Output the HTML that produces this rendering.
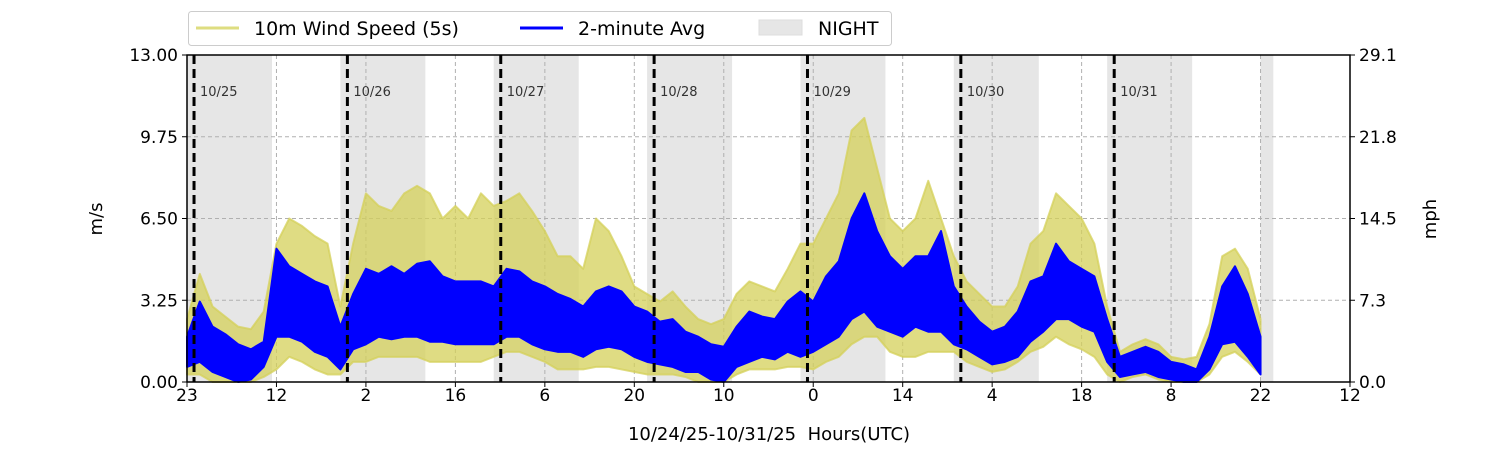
<!DOCTYPE html>
<html><head><meta charset="utf-8"><style>
html,body{margin:0;padding:0;background:#fff;}
svg{display:block;font-family:"DejaVu Sans","Liberation Sans",sans-serif;}
</style></head><body>
<svg id="chart" width="1500" height="450" viewBox="0 0 1500 450" xmlns="http://www.w3.org/2000/svg">
<g id="night-layer"></g>
<g id="grid-layer"></g>
<g id="yellow-layer"></g>
<g id="blue-layer"></g>
<g id="midnight-layer"></g>
<g id="axis-layer"></g>
<g>
  <rect x="188.5" y="11.5" width="703" height="34" rx="3" fill="#fff" stroke="#ccc" stroke-width="1"/>
  <line x1="196" y1="28" x2="239" y2="28" stroke="#dedd80" stroke-width="3"/>
  <text x="254" y="35" font-size="19" fill="#000">10m Wind Speed (5s)</text>
  <line x1="520" y1="28" x2="563" y2="28" stroke="#0000ff" stroke-width="3"/>
  <text x="578" y="35" font-size="19" fill="#000">2-minute Avg</text>
  <rect x="759" y="20" width="43" height="15" fill="#e6e6e6" stroke="#ddd"/>
  <text x="818" y="35" font-size="19" fill="#000">NIGHT</text>
</g>
<text x="102" y="219" font-size="18" text-anchor="middle" transform="rotate(-90 102 219)">m/s</text>
<text x="1436" y="219" font-size="18" text-anchor="middle" transform="rotate(-90 1436 219)">mph</text>
<text x="769" y="440" font-size="18" text-anchor="middle" xml:space="preserve">10/24/25-10/31/25  Hours(UTC)</text>
</svg>
<script>
// hours from start (2-hour steps 0..168), values in m/s
const hours = [0,2,4,6,8,10,12,14,16,18,20,22,24,26,28,30,32,34,36,38,40,42,44,46,48,50,52,54,56,58,60,62,64,66,68,70,72,74,76,78,80,82,84,86,88,90,92,94,96,98,100,102,104,106,108,110,112,114,116,118,120,122,124,126,128,130,132,134,136,138,140,142,144,146,148,150,152,154,156,158,160,162,164,166,168];
const gustHi = [2.5,4.3,3.0,2.6,2.2,2.1,2.8,5.5,6.5,6.2,5.8,5.5,3.0,5.5,7.5,7.0,6.8,7.5,7.8,7.5,6.5,7.0,6.5,7.5,7.0,7.2,7.5,6.8,6.0,5.0,5.0,4.5,6.5,6.0,5.0,3.8,3.5,3.2,3.6,3.0,2.5,2.3,2.5,3.5,4.0,3.8,3.6,4.5,5.5,5.5,6.5,7.5,10.0,10.5,8.5,6.5,6.0,6.5,8.0,6.5,5.0,4.0,3.5,3.0,3.0,3.8,5.5,6.0,7.5,7.0,6.5,5.5,3.0,1.2,1.5,1.7,1.5,1.0,0.9,1.0,2.3,5.0,5.3,4.5,2.5];
const gustLo = [0.3,0.3,0,0,0,0,0.2,0.5,1.0,0.8,0.5,0.3,0.3,0.8,0.8,1.0,1.0,1.0,1.0,0.8,0.8,0.8,0.8,0.8,1.0,1.2,1.2,1.0,0.8,0.5,0.5,0.5,0.6,0.6,0.5,0.4,0.3,0.3,0.3,0.2,0,0,0,0.3,0.5,0.5,0.5,0.6,0.6,0.5,0.8,1.0,1.5,1.8,1.8,1.2,1.0,1.0,1.2,1.2,1.2,0.8,0.6,0.4,0.5,0.8,1.2,1.4,1.8,1.5,1.3,1.0,0.3,0,0.2,0.3,0.1,0,0,0,0.3,1.0,1.2,0.8,0.3];
const avgHi = [1.8,3.2,2.2,1.9,1.5,1.3,1.6,5.3,4.6,4.3,4.0,3.8,2.2,3.5,4.5,4.3,4.6,4.3,4.7,4.8,4.2,4.0,4.0,4.0,3.8,4.5,4.4,4.0,3.8,3.5,3.3,3.0,3.6,3.8,3.6,3.0,2.8,2.4,2.5,2.0,1.8,1.5,1.4,2.2,2.8,2.6,2.5,3.2,3.6,3.2,4.2,4.8,6.5,7.5,6.0,5.0,4.5,5.0,5.0,6.0,3.8,3.0,2.4,2.0,2.2,2.8,4.0,4.2,5.5,4.8,4.5,4.2,2.5,1.0,1.2,1.4,1.2,0.8,0.7,0.5,1.8,3.8,4.6,3.5,1.8];
const avgLo = [0.6,0.8,0.4,0.2,0,0.1,0.6,1.8,1.8,1.6,1.2,1.0,0.5,1.3,1.5,1.8,1.7,1.8,1.8,1.6,1.6,1.5,1.5,1.5,1.5,1.8,1.8,1.5,1.3,1.2,1.2,1.0,1.3,1.4,1.3,1.0,0.8,0.7,0.6,0.4,0.4,0.1,0,0.6,0.8,1.0,0.9,1.2,1.0,1.2,1.5,1.8,2.5,2.8,2.2,2.0,1.8,2.2,2.0,2.0,1.5,1.3,1.0,0.7,0.8,1.0,1.6,2.0,2.5,2.5,2.2,2.0,0.8,0.2,0.3,0.4,0.2,0.1,0,0,0.5,1.5,1.6,1.0,0.3];
const nightStart = [-2,24,48,72,96,120,144,168];
const nightEnd = [13.3,37.3,61.3,85.3,109.3,133.3,157.3,170];
const midnightHours = [1.1,25.1,49.1,73.1,97.1,121.1,145.1];
const midnightLabels = ["10/25","10/26","10/27","10/28","10/29","10/30","10/31"];
const xTickHours = [0,14,28,42,56,70,84,98,112,126,140,154,168,182];
const xTickLabels = ["23","12","2","16","6","20","10","0","14","4","18","8","22","12"];
const yTicks = [0,3.25,6.5,9.75,13];
const yTickLabels = ["0.00","3.25","6.50","9.75","13.00"];
const yRightLabels = ["0.0","7.3","14.5","21.8","29.1"];

const X0=187,X1=1350,Y0=382,Y1=55,HMAX=182,VMAX=13;
const xs = h => X0 + (h/HMAX)*(X1-X0);
const ys = v => Y0 - (v/VMAX)*(Y0-Y1);
const NS="http://www.w3.org/2000/svg";
function mk(tag, parent, attrs){const e=document.createElementNS(NS,tag);for(const k in attrs)e.setAttribute(k,attrs[k]);parent.appendChild(e);return e;}

const night=document.getElementById('night-layer');
nightStart.forEach((s,i)=>{
  const a=Math.max(X0,xs(s)), b=Math.min(X1,xs(nightEnd[i]));
  const r=mk('rect',night,{x:a,y:Y1,width:b-a,height:Y0-Y1,fill:'#e6e6e6'});
  
  
});

const grid=document.getElementById('grid-layer');
xTickHours.forEach(h=>{
  const l=mk('line',grid,{x1:xs(h),x2:xs(h),y1:Y1,y2:Y0,stroke:'#b0b0b0','stroke-dasharray':'4,3','stroke-width':1});
  
  
});
yTicks.forEach(v=>{
  const l=mk('line',grid,{x1:X0,x2:X1,y1:ys(v),y2:ys(v),stroke:'#b0b0b0','stroke-dasharray':'4,3','stroke-width':1});
  
  
});

function band(hi,lo){
  let p=hours.map((h,i)=>xs(h)+','+ys(hi[i]));
  for(let i=hours.length-1;i>=0;i--)p.push(xs(hours[i])+','+ys(lo[i]));
  return p.join(' ');
}
const yl=document.getElementById('yellow-layer');
const yp=mk('polygon',yl,{points:band(gustHi,gustLo),fill:'#d4d05a','fill-opacity':0.75,stroke:'#d4d05a','stroke-opacity':0.75,'stroke-width':2,'stroke-linejoin':'round'});


const bl=document.getElementById('blue-layer');
const bp=mk('polygon',bl,{points:band(avgHi,avgLo),fill:'#0000ff',stroke:'#0000ff','stroke-width':2,'stroke-linejoin':'round'});



const md=document.getElementById('midnight-layer');
midnightHours.forEach((h,i)=>{
  const l=mk('line',md,{x1:xs(h),x2:xs(h),y1:Y1,y2:Y0,stroke:'#000','stroke-width':3,'stroke-dasharray':'9,5'});
  
  
  const t=mk('text',md,{x:xs(h)+6,y:96,'font-size':13,fill:'#333'});
  t.textContent=midnightLabels[i];
  
  
});

const ax=document.getElementById('axis-layer');
mk('rect',ax,{x:X0,y:Y1,width:X1-X0,height:Y0-Y1,fill:'none',stroke:'#000','stroke-width':1.5});
xTickHours.forEach((h,i)=>{
  mk('line',ax,{x1:xs(h),x2:xs(h),y1:Y0,y2:Y0+5,stroke:'#000','stroke-width':1});
  const t=mk('text',ax,{x:xs(h),y:Y0+19,'font-size':17,'text-anchor':'middle'});
  t.textContent=xTickLabels[i];
  
  
});
yTicks.forEach((v,i)=>{
  mk('line',ax,{x1:X0-5,x2:X0,y1:ys(v),y2:ys(v),stroke:'#000','stroke-width':1});
  mk('line',ax,{x1:X1,x2:X1+5,y1:ys(v),y2:ys(v),stroke:'#000','stroke-width':1});
  const t=mk('text',ax,{x:X0-9,y:ys(v)+6,'font-size':17,'text-anchor':'end'});
  t.textContent=yTickLabels[i];
  
  
  const r=mk('text',ax,{x:X1+9,y:ys(v)+6,'font-size':17,'text-anchor':'start'});
  r.textContent=yRightLabels[i];
  
  
});
</script>
</body></html>
